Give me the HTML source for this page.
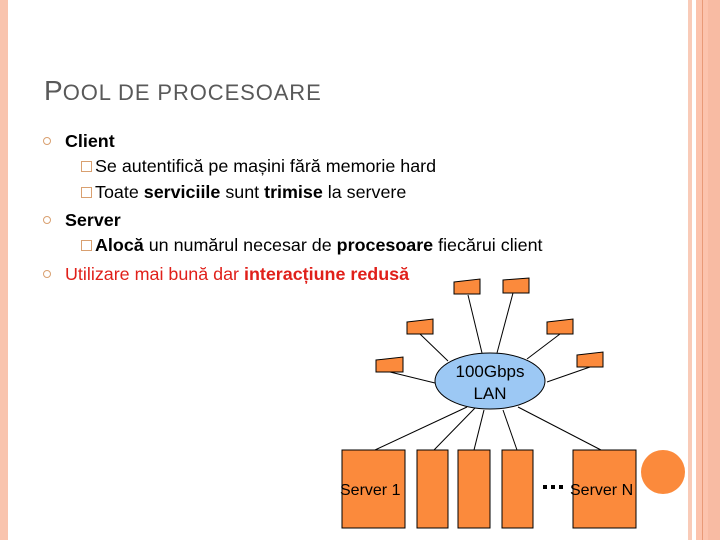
<!DOCTYPE html>
<html><head><meta charset="utf-8"><style>
body{margin:0;width:720px;height:540px;position:relative;background:#fff;overflow:hidden;font-family:"Liberation Sans",sans-serif}
.t{position:absolute;white-space:nowrap;font-size:17.9px;color:#000;line-height:20px}
.b{position:absolute;width:6px;height:6px;border:1.5px solid #d9a070;border-radius:50%}
.s{position:absolute;width:9px;height:9px;border:1px solid #d9a070}
</style></head><body>
<div style="position:absolute;left:0;top:0;width:8px;height:540px;background:#f9c4ae"></div>
<div style="position:absolute;left:688px;top:0;width:4px;height:540px;background:#f9cbb8"></div>
<div style="position:absolute;left:696px;top:0;width:24px;height:540px;background:#fcc3ad"></div>
<div style="position:absolute;left:702px;top:0;width:1px;height:540px;background:#e99a78"></div>
<div style="position:absolute;left:708px;top:0;width:12px;height:540px;background:#f8bba3"></div>
<div class="t" style="left:44px;top:76px;font-size:28px;line-height:30px;color:#595959">P<span style="font-size:22px;letter-spacing:0.9px">OOL DE PROCESOARE</span></div>
<div class="b" style="left:43px;top:137px"></div>
<div class="t" style="left:65px;top:131px;font-weight:bold">Client</div>
<div class="s" style="left:81px;top:161px"></div>
<div class="t" style="left:95px;top:156px">Se autentifică pe mașini fără memorie hard</div>
<div class="s" style="left:81px;top:187px"></div>
<div class="t" style="left:95px;top:182px">Toate <b>serviciile</b> sunt <b>trimise</b> la servere</div>
<div class="b" style="left:43px;top:216px"></div>
<div class="t" style="left:65px;top:210px;font-weight:bold">Server</div>
<div class="s" style="left:81px;top:240px"></div>
<div class="t" style="left:95px;top:235px"><b>Alocă</b> un numărul necesar de <b>procesoare</b> fiecărui client</div>
<div class="b" style="left:43px;top:270px"></div>
<div class="t" style="left:65px;top:264px;color:#e0201a">Utilizare mai bună dar <b>interacțiune redusă</b></div>
<svg style="position:absolute;left:0;top:0" width="720" height="540">
<g stroke="#000" stroke-width="1">
<line x1="468" y1="295" x2="482" y2="353"/><line x1="513" y1="293" x2="497" y2="353"/>
<line x1="420" y1="334" x2="448" y2="361"/><line x1="560" y1="334" x2="527" y2="359"/>
<line x1="390" y1="372" x2="435" y2="383"/><line x1="590" y1="367" x2="547" y2="382"/>
<line x1="375" y1="450" x2="467" y2="407"/><line x1="434" y1="450" x2="475" y2="408"/>
<line x1="474" y1="450" x2="484" y2="410"/><line x1="517" y1="450" x2="503" y2="410"/>
<line x1="601" y1="450" x2="518" y2="407"/>
</g>
<g fill="#fb8a3c" stroke="#000" stroke-width="1">
<polygon points="454,282 480,279 480,294 454,294"/>
<polygon points="503,280 529,278 529,293 503,293"/>
<polygon points="407,322 433,319 433,334 407,334"/>
<polygon points="547,322 573,319 573,334 547,334"/>
<polygon points="376,360 403,357 403,372 376,372"/>
<polygon points="577,355 603,352 603,367 577,367"/>
<rect x="342" y="450" width="63" height="78"/>
<rect x="417" y="450" width="31" height="78"/>
<rect x="458" y="450" width="32" height="78"/>
<rect x="502" y="450" width="31" height="78"/>
<rect x="573" y="450" width="63" height="78"/>
</g>
<ellipse cx="490" cy="381" rx="55" ry="28" fill="#9cc8f4" stroke="#000"/>
<circle cx="663" cy="472" r="22" fill="#fb8a3c"/>
<text x="490" y="377" font-size="17" text-anchor="middle" font-family="Liberation Sans">100Gbps</text>
<text x="490" y="399" font-size="17" text-anchor="middle" font-family="Liberation Sans">LAN</text>
<text x="340" y="495" font-size="16" font-family="Liberation Sans">Server 1</text>
<text x="570" y="495" font-size="16" font-family="Liberation Sans">Server N</text>
<g fill="#000"><rect x="543" y="485" width="4" height="4"/><rect x="551" y="485" width="4" height="4"/><rect x="559" y="485" width="4" height="4"/></g>
</svg>
</body></html>
